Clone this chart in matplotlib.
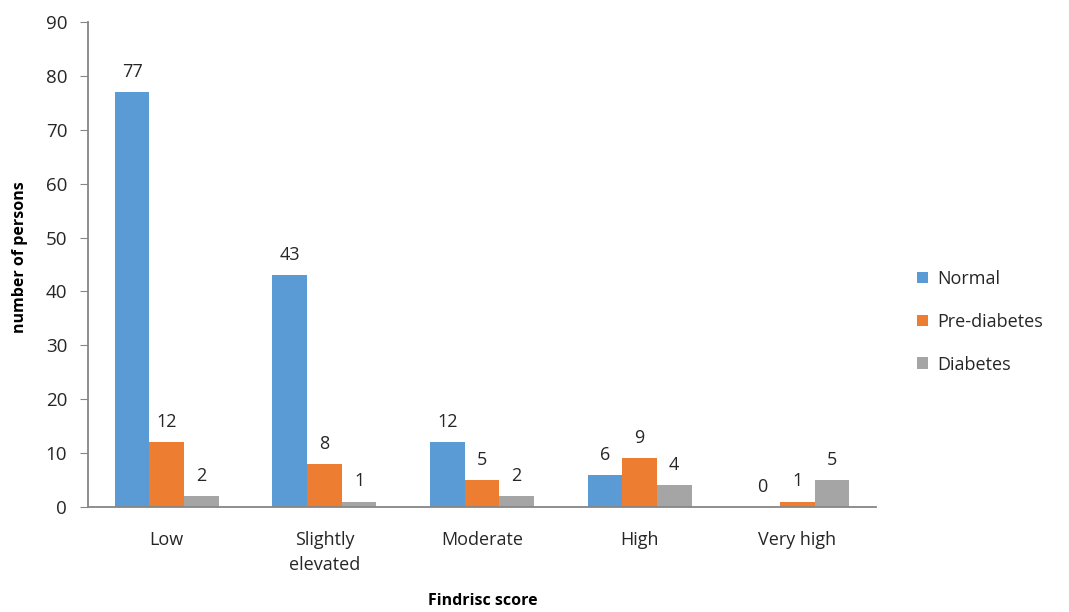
import numpy as np
import matplotlib.pyplot as plt
from matplotlib.patches import Patch

categories = ["Low", "Slightly\nelevated", "Moderate", "High", "Very high"]
series_names = ["Normal", "Pre-diabetes", "Diabetes"]
normal = [77, 43, 12, 6, 0]
pre_diabetes = [12, 8, 5, 9, 1]
diabetes = [2, 1, 2, 4, 5]
colors = ["#5B9BD5", "#ED7D31", "#A5A5A5"]
y_ticks = list(range(0, 91, 10))

plt.rcParams['font.family'] = ['Open Sans', 'DejaVu Sans']

fig = plt.figure(figsize=(10.69, 6.12), dpi=100)
ax = fig.add_axes([0.0823, 0.1716, 0.7372, 0.7924])

x = np.arange(len(categories))
width = 0.22
all_series = [normal, pre_diabetes, diabetes]
for i, (vals, col, name) in enumerate(zip(all_series, colors, series_names)):
    pos = x + (i - 1) * width
    ax.bar(pos, vals, width=width, color=col, label=name, zorder=2)
    for xp, v in zip(pos, vals):
        ax.annotate(str(v), (xp, v), xytext=(0, 8), textcoords="offset points",
                    ha="center", va="bottom", fontsize=13, color="#262626")

ax.set_xlim(-0.5, len(categories) - 0.5)
ax.set_ylim(0, 90)
ax.set_yticks(y_ticks)
ax.set_xticks(x)
ax.set_xticklabels(categories, fontsize=13, color="#262626", linespacing=1.55)
ax.tick_params(axis="x", length=0, pad=17)
ax.tick_params(axis="y", labelsize=13.5, labelcolor="#262626", length=6,
               color="#868686", pad=9)
for s in ["top", "right"]:
    ax.spines[s].set_visible(False)
for s in ["left", "bottom"]:
    ax.spines[s].set_color("#868686")
    ax.spines[s].set_linewidth(1.3)

fig.text(0.019, 0.58, "number of persons", rotation=90, ha="center", va="center",
         fontsize=11.5, fontweight="bold", color="#000000")
fig.text(0.452, 0.018, "Findrisc score", ha="center", va="center",
         fontsize=11.5, fontweight="bold", color="#000000")

handles = [Patch(facecolor=c, label=n) for c, n in zip(colors, series_names)]
fig.legend(handles=handles, loc="center left", bbox_to_anchor=(0.843, 0.4745),
           frameon=False, fontsize=13, handlelength=0.6, handleheight=0.6,
           handletextpad=0.5, labelspacing=1.38, labelcolor="#262626")

fig.savefig("out.png", dpi=100)
